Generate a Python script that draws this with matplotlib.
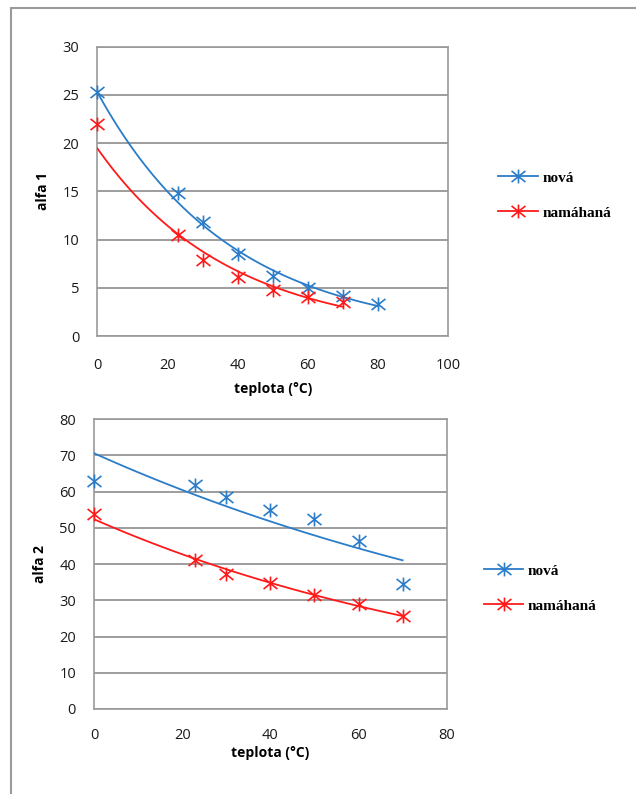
import numpy as np
import matplotlib.pyplot as plt
from matplotlib.lines import Line2D
from matplotlib.patches import Rectangle
from matplotlib.path import Path

# alfa 1
t1_nova = [0, 23, 30, 40, 50, 60, 70, 80]
a1_nova = [25.3, 14.8, 11.8, 8.5, 6.2, 5.0, 4.2, 3.3]
t1_nam = [0, 23, 30, 40, 50, 60, 70]
a1_nam = [22.0, 10.5, 7.9, 6.1, 4.8, 4.0, 3.5]

# alfa 2
t2_nova = [0, 23, 30, 40, 50, 60, 70]
a2_nova = [63.0, 61.8, 58.5, 55.0, 52.5, 46.5, 34.5]
t2_nam = [0, 23, 30, 40, 50, 60, 70]
a2_nam = [53.7, 41.0, 37.3, 34.7, 31.5, 29.0, 25.7]

BLUE = '#2b7cc9'
RED = '#ff1a1a'
# excel-style star: X with a vertical stroke
STAR = Path([(0, -1), (0, 1), (-1, -0.8), (1, 0.8), (-1, 0.8), (1, -0.8)],
            [Path.MOVETO, Path.LINETO] * 3)
LABEL_FONT = ['Open Sans', 'DejaVu Sans']
LEG_FONT = ['Liberation Serif', 'DejaVu Serif']


def exp_trend(x, y):
    # excel-like exponential trendline
    b, a = np.polyfit(x, np.log(y), 1)
    xs = np.linspace(min(x), max(x), 100)
    return xs, np.exp(a) * np.exp(b * xs)


def draw(ax, series, xmax, xstep, ymax, ystep, ylabel, xpad):
    for x, y, c in series:
        xs, ys = exp_trend(x, y)
        ax.plot(xs, ys, color=c, lw=1.3, zorder=3)
        ax.plot(x, y, ls='none', marker=STAR, ms=10, mew=1.2, color=c, zorder=4, clip_on=False)
    ax.set_xlim(0, xmax)
    ax.set_ylim(0, ymax)
    ax.set_xticks(np.arange(0, xmax + 1, xstep))
    ax.set_yticks(np.arange(0, ymax + 1, ystep))
    ax.grid(axis='y', color='#8c8c8c', lw=1.2)
    ax.set_axisbelow(True)
    for s in ax.spines.values():
        s.set_color('#9a9a9a')
        s.set_linewidth(1.2)
    ax.tick_params(length=0, labelsize=10.5, labelcolor='#1a1a1a')
    ax.tick_params(axis='x', pad=xpad)
    ax.tick_params(axis='y', pad=13)
    for lab in ax.get_xticklabels() + ax.get_yticklabels():
        lab.set_family(LABEL_FONT)
    ax.set_xlabel('teplota (°C)', fontsize=10, fontweight='bold', family=LABEL_FONT)
    ax.set_ylabel(ylabel, fontsize=10, fontweight='bold', family=LABEL_FONT, labelpad=9)


fig = plt.figure(figsize=(6.36, 7.94), dpi=100)

# outer frame
fig.patches.append(Rectangle((0.018, -0.01), 1.2, 1.0, transform=fig.transFigure,
                             fill=False, edgecolor='#9a9a9a', lw=1.5))

ax1 = fig.add_axes([0.1533, 0.5768, 0.551, 0.3644])
draw(ax1, [(t1_nova, a1_nova, BLUE), (t1_nam, a1_nam, RED)], 100, 20, 30, 5, 'alfa 1', 16)
ax1.xaxis.labelpad = 6

ax2 = fig.add_axes([0.1478, 0.1071, 0.5546, 0.3649])
draw(ax2, [(t2_nova, a2_nova, BLUE), (t2_nam, a2_nam, RED)], 80, 20, 80, 10, 'alfa 2', 14)
ax2.xaxis.labelpad = 2

handles = [Line2D([], [], color=BLUE, lw=1.3, marker=STAR, ms=10, mew=1.2),
           Line2D([], [], color=RED, lw=1.3, marker=STAR, ms=10, mew=1.2)]
names = ['nová', 'namáhaná']
for x, y in ((0.762, 0.802), (0.739, 0.307)):
    fig.legend(handles, names, loc='upper left', bbox_to_anchor=(x, y),
               frameon=False, handlelength=2.6, handletextpad=0.3, labelspacing=1.4,
               prop={'family': LEG_FONT, 'weight': 'bold', 'size': 11})

fig.savefig('out.png', dpi=100)
